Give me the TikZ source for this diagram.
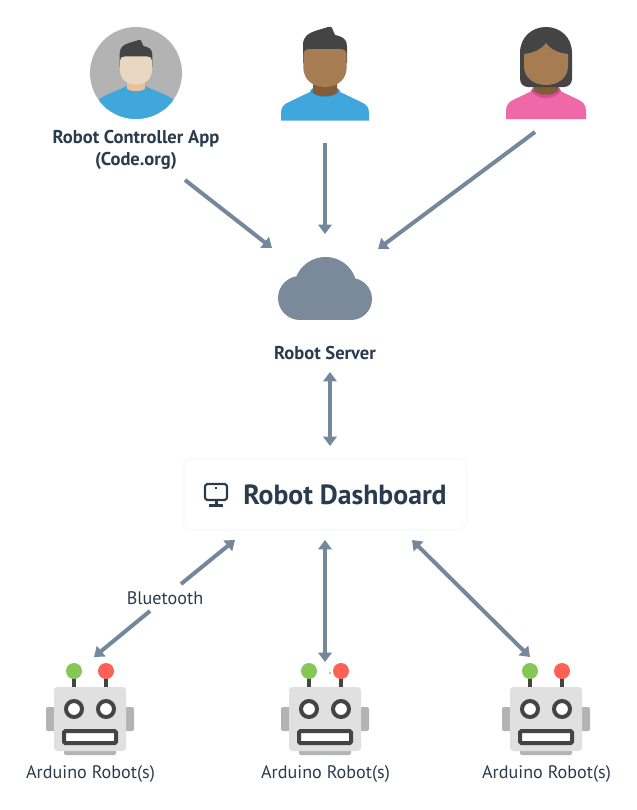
\documentclass[tikz,border=0pt]{standalone}
\usepackage{fontspec}
\setmainfont{PT Sans}
\usetikzlibrary{arrows.meta}
\definecolor{arrowc}{HTML}{75879A}
\definecolor{cloudc}{HTML}{7A8A9A}
\definecolor{inkc}{HTML}{2A3B4D}
\definecolor{hairc}{HTML}{444444}
\definecolor{skinb}{HTML}{A67C52}
\definecolor{neckb}{HTML}{825C38}
\definecolor{skinl}{HTML}{EAD7C3}
\definecolor{neckl}{HTML}{EAC09B}
\definecolor{shirtb}{HTML}{40A7DD}
\definecolor{collarb}{HTML}{2F8FC5}
\definecolor{shirtp}{HTML}{EF69A9}
\definecolor{collarp}{HTML}{D04F95}
\definecolor{botbody}{HTML}{E0E0E0}
\definecolor{botside}{HTML}{B3B3B3}
\definecolor{botgreen}{HTML}{85C754}
\definecolor{botred}{HTML}{FF6155}
\definecolor{edgec}{HTML}{FAFAFA}
\tikzset{
  arr/.style={draw=arrowc,line width=3pt,-{Triangle[length=7pt,width=10pt]}},
  dblarr/.style={draw=arrowc,line width=3pt,{Triangle[length=7pt,width=10pt]}-{Triangle[length=7pt,width=10pt]}},
  boldlbl/.style={text=inkc,font=\fontsize{13.9}{17}\selectfont\bfseries,inner sep=0pt,align=center},
  plainlbl/.style={text=inkc,font=\fontsize{13.6}{15}\selectfont,inner sep=0pt},
  titlelbl/.style={text=inkc,font=\fontsize{20.8}{22}\selectfont\bfseries,inner sep=0pt}
}
\newcommand{\manfig}[6]{%
\begin{scope}[shift={(#1,#2)},scale=#3]
  \fill[shirtb] (-44,27.7) -- (-44,20) .. controls (-44,14) and (-41,11) .. (-36,9) -- (-13,-2) -- (13,-2) -- (36,9) .. controls (41,11) and (44,14) .. (44,20) -- (44,27.7) -- cycle;
  \fill[#6] (-15,-2) .. controls (-8,6) and (8,6) .. (15,-2) -- (12,-5) -- (-12,-5) -- cycle;
  \fill[#5] (-12,-15) -- (-12,0) .. controls (-6,4) and (6,4) .. (12,0) -- (12,-15) -- cycle;
  \fill[hairc] (-22,-30) -- (-22,-48) .. controls (-22,-57) and (-16,-60) .. (-10,-62) -- (3,-66) .. controls (5,-67) and (7,-66) .. (7,-65) -- (10,-58) -- (14,-57) .. controls (20,-55) and (22,-52) .. (22,-46) -- (22,-30) -- cycle;
  \fill[#4] (-21.7,-38) .. controls (-21.7,-42) and (-19,-44) .. (-15,-44) -- (15,-44) .. controls (19,-44) and (21.7,-42) .. (21.7,-38) -- (21.7,-26) .. controls (21.7,-13) and (12,-6) .. (0,-6) .. controls (-12,-6) and (-21.7,-13) .. (-21.7,-26) -- cycle;
\end{scope}}
\newcommand{\botfig}[1]{%
\begin{scope}[shift={(#1,0)}]
  \fill[botside,rounded corners=1.5pt] (-44,707) rectangle (-30,731);
  \fill[botside,rounded corners=1.5pt] (30,707) rectangle (44,731);
  \fill[botside,rounded corners=1.5pt] (-26,740) rectangle (26,755);
  \fill[hairc] (-18,675) rectangle (-14,690);
  \fill[hairc] (14,675) rectangle (18,690);
  \fill[botgreen] (-16,671) circle[radius=8];
  \fill[botred] (16,671) circle[radius=8];
  \fill[botbody,rounded corners=2.5pt] (-36,687) rectangle (36,751);
  \draw[hairc,fill=white,line width=3pt] (-16,709) circle[radius=8];
  \draw[hairc,fill=white,line width=3pt] (16,709) circle[radius=8];
  \draw[hairc,fill=white,line width=3pt,rounded corners=1pt] (-26,731) rectangle (26,743);
\end{scope}}
\begin{document}
\begin{tikzpicture}[x=0.75pt,y=-0.75pt]
\useasboundingbox (0,0) rectangle (636,810);
% first person (in a disc)
\fill[botside] (136,73) circle[radius=46];
\begin{scope}
  \clip (136,73) circle[radius=46];
  \fill[shirtb] (125,87) -- (147,87) -- (168,96) .. controls (174,99) and (176,103) .. (176,110) -- (176,125) -- (96,125) -- (96,110) .. controls (96,103) and (98,99) .. (104,96) -- cycle;
  \manfig{136}{89}{0.74}{skinl}{neckl}{shirtb}
\end{scope}
\manfig{325}{93}{1}{skinb}{neckb}{collarb}
% third person
\begin{scope}[shift={(546,91)}]
  \fill[shirtp] (-40,28) -- (-40,20) .. controls (-40,14) and (-37,11) .. (-33,9) -- (-12,-1) -- (12,-1) -- (33,9) .. controls (37,11) and (40,14) .. (40,20) -- (40,28) -- cycle;
  \fill[collarp] (-15,0) .. controls (-8,9.5) and (8,9.5) .. (15,0) -- (12,-5) -- (-12,-5) -- cycle;
  \fill[neckb] (-12,-15) -- (-12,0) .. controls (-6,5) and (6,5) .. (12,0) -- (12,-15) -- cycle;
  \fill[hairc] (-26,-12) -- (-26,-38) .. controls (-26,-54) and (-14,-64) .. (0,-64) .. controls (14,-64) and (26,-54) .. (26,-38) -- (26,-12) .. controls (26,-7) and (22,-4) .. (18,-4) -- (-18,-4) .. controls (-22,-4) and (-26,-7) .. (-26,-12) -- cycle;
  \fill[skinb] (-22,-37) .. controls (-12,-38) and (-4,-42) .. (0,-48) .. controls (4,-42) and (12,-38) .. (22,-37) -- (22,-25) .. controls (22,-13) and (12,-6) .. (0,-6) .. controls (-12,-6) and (-22,-13) .. (-22,-25) -- cycle;
\end{scope}
% cloud
\fill[cloudc] (300,298) circle[radius=22];
\fill[cloudc] (351,299) circle[radius=21];
\fill[cloudc] (325.5,288.5) circle[radius=31.5];
\fill[cloudc] (300,300) rectangle (351,320);
% dashboard panel
\fill[edgec!60,rounded corners=7pt] (182,457) rectangle (468,531);
\draw[edgec,fill=white,rounded corners=6pt,line width=0.75pt] (184,459) rectangle (466,529);
% monitor icon
\draw[inkc,line width=1.6pt,rounded corners=2pt] (205,484) rectangle (227,500);
\fill[inkc] (215.2,487) rectangle (217,489);
\fill[inkc] (214.5,500) rectangle (217.5,505);
\fill[inkc] (209,504) rectangle (223,506.5);
% robots
\botfig{90}
\botfig{325}
\botfig{546}
\fill[arrowc] (330,673) circle[radius=0.8];
% anchors of the figures
\coordinate (p1) at (136,73);
\coordinate (p2) at (325,74);
\coordinate (p3) at (546,73);
\coordinate (cloud) at (325,290);
\coordinate (r1) at (90,720);
\coordinate (r2) at (325,720);
\coordinate (r3) at (546,720);
% labels
\node[boldlbl] (p1lbl) at (136,150) {Robot Controller App\\(Code.org)};
\node[boldlbl] (srvlbl) at (325,353) {Robot Server};
\node[titlelbl,anchor=west] (dash) at (243,494.5) {Robot Dashboard};
\node[plainlbl] (bt) at (165,598) {Bluetooth};
\node[plainlbl] (r1lbl) at (90.5,774) {Arduino Robot(s)};
\node[plainlbl] (r2lbl) at (325.5,774) {Arduino Robot(s)};
\node[plainlbl] (r3lbl) at (546.5,774) {Arduino Robot(s)};
% connectors
\draw[arr] ([shift={(49,30)}]p1lbl.center) -- ([shift={(-53,-42)}]cloud);
\draw[arr] ([shift={(0,69)}]p2) -- ([shift={(0,-56)}]cloud);
\draw[arr] ([shift={(-11,59)}]p3) -- ([shift={(53,-41)}]cloud);
\draw[dblarr] ([shift={(5,19)}]srvlbl.center) -- ([shift={(5,93)}]srvlbl.center);
\draw[arr] ([shift={(16,-14)}]bt.center) -- ([shift={(70,-58)}]bt.center);
\draw[arr] ([shift={(-15,13)}]bt.center) -- ([shift={(4,-63)}]r1);
\draw[dblarr] ([shift={(0,-58)}]r2) -- ([shift={(0,-180)}]r2);
\draw[dblarr] ([shift={(-134,-180)}]r3) -- ([shift={(-16,-63)}]r3);
\end{tikzpicture}
\end{document}
